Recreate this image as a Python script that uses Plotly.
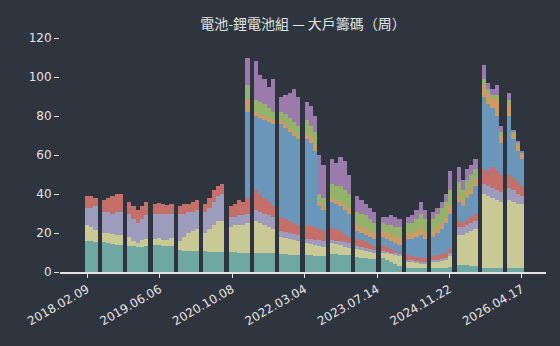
import plotly.graph_objects as go

N = None

# cumulative tops of each stacked layer; None = no data / layer absent
teal_top = [16, 16, 15.5, N,
            15.5, 15, 14.5, 14, 14, N,
            13.5, 13.5, 13, 13, 13.5, N,
            14, 14, 13.5, 13.5, 13.5, N,
            11.5, 11, 11, 11, 11, N,
            11, 10.5, 10.5, 10.5, 10.5, N,
            10.5, 10.5, 10, 10, 10, N,
            10, 10, 10, 9.5, 9.5, N,
            9, 9, 8.5, 8.5, 8.5, N,
            8.5, 8.5, 8, 8, 8, N,
            9, 9, 8.5, 8.5, 8.5, N,
            7.5, 7, 7, 6.5, 6.5, N,
            7, 6, 5, 4, 3, N,
            2, 2, 2, 2, 2, N,
            2, 2, 2, 2, 2.5, N,
            3.5, 3.5, 3.5, 3, 3, N,
            2, 2, 2, 2, 2, N,
            2, 2, 2, 2]

yellow_top = [24, 23, 21.5, N,
              20, 20, 19.5, 19, 19, N,
              18, 16, 15, 16.5, 17, N,
              17, 17.5, 16.5, 16.5, 17.5, N,
              16, 18, 20, 21, 22, N,
              20, 22, 24, 26, 26, N,
              23, 24, 24, 24, 25, N,
              26, 25, 24, 23, 22, N,
              18, 17.5, 17, 16.5, 16, N,
              15, 14.5, 14, 13.5, 13, N,
              15, 14.5, 14, 13, 12.5, N,
              12, 11.5, 11, 10.5, 10, N,
              10, 9.5, 9, 8.5, 8, N,
              5, 5, 4.5, 4, 4, N,
              5, 5, 5.5, 6, 8, N,
              19, 19, 20, 21, 22, N,
              40, 39, 38, 37, 36, N,
              37, 36, 35, 35]

lavender_top = [33, 33, 34, N,
                31, 31, 30, 31, 31, N,
                30, 27, 25, 27, 29, N,
                30, 30, 30, 29.5, 30, N,
                30, 30, 31, 31, 32, N,
                31, 33, 36, 39, 40, N,
                28, 28, 29, 29, 30, N,
                32, 31, 30, 29, 28, N,
                21, 20.5, 20, 19.5, 19, N,
                17, 17, 16.5, 16.5, 16, N,
                16.5, 16, 16, 15.5, 15, N,
                13.5, 13, 12.5, 12, 11.5, N,
                11, 10.5, 10, 9.5, 9, N,
                6, 6, 5.5, 5, 5, N,
                6, 6, 6.5, 7, 9.5, N,
                23, 23, 24, 25, 26, N,
                45, 44, 43, 42, 41, N,
                43, 42, 40, 39]

red_top = [39, 39, 38, N,
           37, 38, 39, 40, 40, N,
           36, 34, 32, 34, 36, N,
           35, 35.5, 35, 34.5, 35, N,
           34, 35, 35, 36, 37, N,
           35, 38, 42, 44, 45, N,
           34, 35, 37, 36, 38, N,
           42, 40, 38, 36, 34, N,
           28, 27, 26, 25, 24, N,
           24, 23.5, 23, 22, 21, N,
           22.5, 22, 21, 19, 18, N,
           17, 16.5, 16, 14.5, 13.5, N,
           14, 13, 12, 11, 10, N,
           8.5, 8, 7.5, 7, 7, N,
           8, 8.5, 9, 10, 12, N,
           26, 25, 27, 28, 30, N,
           53, 52, 54, 52, 50, N,
           50, 48, 46, 44]

blue_top = [N, N, N, N,
            N, N, N, N, N, N,
            N, N, N, N, N, N,
            N, N, N, N, N, N,
            N, N, N, N, N, N,
            N, N, N, N, N, N,
            N, N, N, N, 82, N,
            80, 79, 78, 77, 76, N,
            76, 74, 72, 70, 68, N,
            68, 66, 62, 34, 32, N,
            36, 35, 34, 32, 30, N,
            21, 20, 19, 18, 17, N,
            18, 17, 16, 15, 14, N,
            17, 17, 18, 19, 17, N,
            18, 20, 22, 25, 30, N,
            36, 34, 38, 40, 44, N,
            90, 86, 84, 80, 66, N,
            80, 68, 62, 58]

orange_top = [N, N, N, N,
              N, N, N, N, N, N,
              N, N, N, N, N, N,
              N, N, N, N, N, N,
              N, N, N, N, N, N,
              N, N, N, N, N, N,
              N, N, N, N, 88, N,
              82, 81, 80, 79, 78, N,
              78, 76, 74, 72, 70, N,
              71, 69, 65, 36, 34, N,
              38, 37, 36, 34, 33, N,
              24, 23, 22, 21, 20, N,
              21, 20, 19, 18, 18, N,
              20, 20, 21, 23, 20, N,
              21, 23, 25, 28, 34, N,
              39, 37, 41, 44, 48, N,
              96, 92, 89, 88, 70, N,
              86, 71, 65, 60]

green_top = [N, N, N, N,
             N, N, N, N, N, N,
             N, N, N, N, N, N,
             N, N, N, N, N, N,
             N, N, N, N, N, N,
             N, N, N, N, N, N,
             N, N, N, N, 96, N,
             88, 87, 86, 84, 82, N,
             82, 81, 79, 77, 75, N,
             78, 75, 72, 40, 38, N,
             45, 44, 44, 42, 40, N,
             31, 30, 29, 27, 25, N,
             25, 24, 24, 23, 23, N,
             25, 25, 27, 30, 27, N,
             27, 30, 33, 36, 42, N,
             46, 42, 47, 50, 53, N,
             99, 94, 91, 91, 72, N,
             88, 72, 66, 61]

purple_top = [N, N, N, N,
              N, N, N, N, N, N,
              N, N, N, N, N, N,
              N, N, N, N, N, N,
              N, N, N, N, N, N,
              N, N, N, N, N, N,
              N, N, N, N, 110, N,
              108, 101, 99, 95, 99, N,
              90, 91, 92, 94, 90, N,
              87, 85, 80, 60, 55, N,
              58, 56, 59, 57, 50, N,
              39, 37, 35, 33, 31, N,
              28, 28, 29, 28, 27, N,
              28, 29, 32, 36, 32, N,
              31, 33, 36, 40, 52, N,
              54, 47, 53, 55, 58, N,
              106, 97, 94, 96, 75, N,
              92, 73, 67, 62]

tick_labels = ["2018.02.09", "2019.06.06", "2020.10.08", "2022.03.04",
               "2023.07.14", "2024.11.22", "2026.04.17"]

BG = "#2f353e"
FG = "#e2e2e2"

layers = [
    ("purple", purple_top, "#9b7bab"),
    ("green", green_top, "#93b36b"),
    ("orange", orange_top, "#cc9a62"),
    ("blue", blue_top, "#6a97b9"),
    ("red", red_top, "#c46f6a"),
    ("lavender", lavender_top, "#9d9cbd"),
    ("yellow", yellow_top, "#c9c995"),
    ("teal", teal_top, "#6fa8a3"),
]

n = len(teal_top)
x = list(range(n))

fig = go.Figure()
for name, vals, color in layers:
    fig.add_trace(go.Bar(x=x, y=vals, width=1, name=name,
                         marker=dict(color=color, line=dict(width=0)),
                         hoverinfo="skip"))

tickvals = [i * (n - 1) / 6 for i in range(7)]

fig.update_layout(
    width=560, height=346,
    barmode="overlay", bargap=0,
    paper_bgcolor=BG, plot_bgcolor=BG,
    showlegend=False,
    margin=dict(l=60, r=14, t=30, b=74),
    title=dict(text="電池-鋰電池組 — 大戶籌碼（周）", x=0.5, xref="paper",
               y=1 - 24 / 346, yref="container", yanchor="middle", xanchor="center",
               font=dict(family="Noto Sans CJK TC", size=14, color=FG)),
    xaxis=dict(range=[-6.43, 108.7], tickvals=tickvals, ticktext=tick_labels,
               tickangle=-30, ticks="outside", ticklen=4, tickwidth=1.2, tickcolor=FG,
               showline=True, linecolor=FG, linewidth=1.5, showgrid=False, zeroline=False,
               tickfont=dict(family="DejaVu Sans", size=12, color=FG)),
    yaxis=dict(range=[0, 124.1], tickvals=[0, 20, 40, 60, 80, 100, 120],
               ticks="outside", ticklen=5, tickwidth=1.2, tickcolor=FG,
               showline=False, showgrid=False, zeroline=False,
               tickfont=dict(family="DejaVu Sans", size=12, color=FG)),
)

fig.write_html("out.html")
